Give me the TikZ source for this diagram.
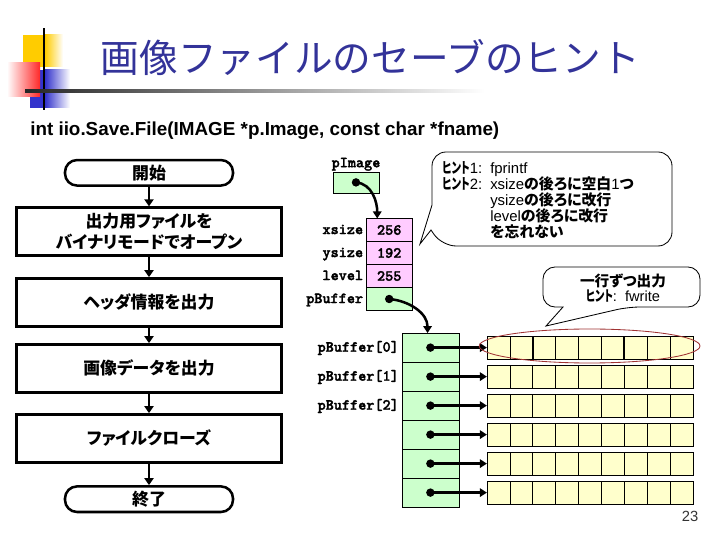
\documentclass[tikz,border=0pt]{standalone}
\usepackage{fontspec}
\setmainfont{Liberation Sans}
\newfontfamily\jpfont{Noto Sans CJK JP}
\newfontfamily\jppfont{Noto Sans CJK JP}[RawFeature=+palt]
\newfontfamily\jpnarrow{Noto Sans CJK JP}[RawFeature=+palt, FakeStretch=0.7]
\newfontfamily\codefont{lmmonolt10-bold.otf}[FakeBold=2]
\usepackage{tikz}
\usetikzlibrary{positioning,arrows.meta,calc}
\usepackage{xcolor}
\definecolor{titleblue}{RGB}{51,51,153}
\definecolor{decoyellow}{RGB}{255,204,0}
\definecolor{decored}{RGB}{255,40,40}
\definecolor{decoblue}{RGB}{51,51,204}
\definecolor{fieldgreen}{RGB}{204,255,204}
\definecolor{fieldpink}{RGB}{255,204,255}
\definecolor{pixyellow}{RGB}{255,255,204}
\definecolor{markred}{RGB}{160,50,50}
\newcommand{\jb}[1]{{\jppfont\bfseries #1}}
\newcommand{\hintword}{{\jpnarrow\bfseries ヒント}}

\tikzset{
  flowbox/.style={draw, line width=1.8pt, minimum width=6.625cm, minimum height=1.2cm, align=center, font=\jppfont\bfseries\fontsize{12}{15}\selectfont},
  terminal/.style={flowbox, minimum width=4.2cm, minimum height=0.6cm, rounded corners=0.3cm},
  flowarrow/.style={line width=1.8pt, -{Triangle[length=5pt,width=6.5pt]}},
  field/.style={draw, fill=fieldpink, minimum width=1.15cm, minimum height=0.575cm, inner sep=0pt, outer sep=0pt, font=\codefont\fontsize{11}{13}\selectfont},
  fieldname/.style={font=\codefont\fontsize{11}{13}\selectfont, inner sep=1pt, text height=1.5ex, text depth=0.4ex},
  bufcell/.style={draw, fill=fieldgreen, minimum width=1.425cm, minimum height=0.725cm, inner sep=0pt, outer sep=0pt},
  pixrow/.style={draw, fill=pixyellow, minimum width=5.15cm, minimum height=0.575cm, inner sep=0pt, outer sep=0pt},
  ptr/.style={line width=1.8pt, -{Triangle[length=5pt,width=6pt]}},
  callout/.style={draw, fill=white, line width=0.6pt},
  hint/.style={font=\fontsize{10.6}{12}\selectfont, anchor=base west, inner sep=0pt},
}

\begin{document}
\begin{tikzpicture}
\useasboundingbox (0,0) rectangle (18,13.5);

% Title decoration
\fill[decoyellow] (0.575,11.825) rectangle (1.125,12.625);
\shade[left color=decoyellow, right color=white] (1.125,11.825) rectangle (1.575,12.625);
\fill[decoblue] (0.75,10.8) rectangle (1.125,11.75);
\shade[left color=decoblue, right color=white] (1.125,10.8) rectangle (1.75,11.75);
\shade[left color=white, right color=decored] (0.175,11.075) rectangle (1.0,11.925);
\draw[line width=1.4pt] (1.1,10.75) -- (1.1,12.8);
\shade[left color=black!85, right color=white] (0.625,11.18) rectangle (12.125,11.27);

% Title
\node[anchor=west, text=titleblue, font=\jpfont\fontsize{27.5}{30}\selectfont] (title) at (2.4, 12.05) {画像ファイルのセーブのヒント};
\node[anchor=west, inner sep=0pt, font=\bfseries\fontsize{13.4}{15}\selectfont] (proto) at (0.75, 10.225) {int iio.Save.File(IMAGE *p.Image, const char *fname)};

% Flowchart
\node[terminal] (start) at (3.725, 9.18) {開始};
\node[flowbox] (open) at (3.725, 7.71) {出力用ファイルを\\バイナリモードでオープン};
\node[flowbox] (header) at (3.725, 5.94) {ヘッダ情報を出力};
\node[flowbox] (data) at (3.725, 4.29) {画像データを出力};
\node[flowbox] (close) at (3.725, 2.54) {ファイルクローズ};
\node[terminal] (stop) at (3.725, 1.02) {終了};
\foreach \a/\b in {start/open, open/header, header/data, data/close, close/stop}
  \draw[flowarrow] (\a) -- (\b);

% Image structure
\node[field, fill=fieldgreen, minimum height=0.525cm] (pimage) at (8.9, 8.94) {};
\node[fieldname, above=0pt of pimage] (pimagelbl) {pImage};
\node[field] (xsize) at (9.73, 7.75) {256};
\node[field, below=0pt of xsize] (ysize) {192};
\node[field, below=0pt of ysize] (level) {255};
\node[field, fill=fieldgreen, below=0pt of level] (pbuffer) {};
\foreach \f/\t in {xsize/xsize, ysize/ysize, level/level, pbuffer/pBuffer}
  \node[fieldname, left=1pt of \f] (\f lbl) {\t};

% Pointer array and pixel rows
\node[bufcell] (buf0) at (10.76, 4.81) {};
\foreach \i [count=\j from 1] in {0,...,4}
  \node[bufcell, below=0pt of buf\i] (buf\j) {};
\foreach \i in {0,1,2}
  \node[fieldname, left=1pt of buf\i] (buf\i lbl) {pBuffer[\i]};
\foreach \i in {0,...,5} {
  \node[pixrow, right=0.7cm of buf\i] (row\i) {};
  \foreach \k in {1,...,8}
    \draw ($(row\i.north west)!\k/9!(row\i.north east)$) -- ($(row\i.south west)!\k/9!(row\i.south east)$);
}
\foreach \k in {2,6}
  \draw[line width=1.4pt] ($(row0.north west)!\k/9!(row0.north east)$) -- ($(row0.south west)!\k/9!(row0.south east)$);

% Pointers
\coordinate (xsizetop) at ($(xsize.north west)!0.24!(xsize.north east)$);
\coordinate (buftop) at ($(buf0.north west)!0.45!(buf0.north east)$);
\fill (pimage.center) circle (3pt);
\draw[ptr] (pimage.center) to[out=-5, in=90] (xsizetop);
\fill (pbuffer.center) circle (3pt);
\draw[ptr] (pbuffer.center) to[out=-5, in=90] (buftop);
\foreach \i in {0,...,5} {
  \fill (buf\i.center) circle (3pt);
  \draw[ptr] (buf\i.center) -- (row\i.west);
}

% One row at a time
\draw[markred, line width=0.6pt] (14.74, 4.85) ellipse (2.76cm and 0.425cm);

% Hint callouts
\draw[callout, rounded corners=0.35cm] (13,9.7) -- (16.8,9.7) -- (16.8,7.35) -- (11.05,7.35) [sharp corners] -- (10.775,7.75) -- (10.5,7.4) -- (10.8,8.375) [rounded corners=0.35cm] -- (10.8,9.7) -- cycle;
\node[hint] (hint1) at (11.05, 9.15) {\hintword 1:};
\node[hint] (hint1txt) at (12.25, 9.15) {fprintf};
\node[hint] (hint2) at (11.05, 8.75) {\hintword 2:};
\node[hint] (hint2a) at (12.25, 8.75) {xsize\jb{の後ろに空白}1\jb{つ}};
\node[hint] (hint2b) at (12.25, 8.35) {ysize\jb{の後ろに改行}};
\node[hint] (hint2c) at (12.25, 7.95) {level\jb{の後ろに改行}};
\node[hint] (hint2d) at (12.25, 7.55) {\jb{を忘れない}};

\draw[callout, rounded corners=0.3cm] (15.5,6.825) -- (17.5,6.825) -- (17.5,5.825) -- (15.7,5.825) [sharp corners] -- (13.65,5.35) -- (14.075,5.825) [rounded corners=0.3cm] -- (13.575,5.825) -- (13.575,6.825) -- cycle;
\node[align=center, font=\fontsize{10.4}{10.8}\selectfont] (hint3) at (15.575, 6.29) {\jb{一行ずつ出力}\\\hintword:\ \ fwrite};

% Page number
\node[text=black!80, font=\fontsize{10.5}{12}\selectfont] (pagenum) at (17.25, 0.6) {23};

\end{tikzpicture}
\end{document}
